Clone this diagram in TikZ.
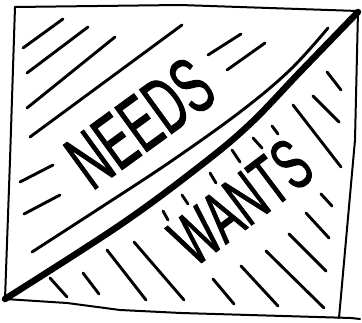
\documentclass[tikz,border=0pt]{standalone}
\usepackage{fontspec}
\setmainfont{Liberation Sans}
\newfontfamily\handfont[FakeBold=1.6]{Liberation Sans}
\usepackage{graphicx}
\begin{document}
\begin{tikzpicture}[x=1pt,y=-1pt,
  frame/.style={line width=2pt, line join=round, line cap=round},
  hatch/.style={line width=2.9pt, line cap=round},
  divider/.style={line width=6.5pt, line cap=round, line join=round},
  word/.style={inner sep=0pt}]
\useasboundingbox (0,0) rectangle (362,323);
\fill[white] (0,0) rectangle (362,323);
% frame
\draw[frame] (5,299) -- (10,160) -- (15,7) -- (180,5) -- (358,11) -- (355,140) -- (339,318);
\draw[frame] (5,299) -- (67,303) -- (120,310) -- (181,313) -- (351,318) -- (360,319);
% dividing diagonal
\draw[divider] plot[smooth, tension=0.6] coordinates {(5,299) (120,225) (200,166) (250,124) (300,72) (358,12)};
% upper-left hatching
\draw[hatch] (23,48) -- (63,19);
\draw[hatch] (27,73) -- (88,27);
\draw[hatch] (27,108) -- (115,37);
\draw[hatch] (30,137) -- (182,25);
\draw[hatch] (208,55) -- (241,34);
\draw[hatch] (227,70) -- (265,43);
\draw[hatch] (20,182) -- (53,165);
\draw[hatch] (24,214) -- (60,195);
\draw[hatch] plot[smooth, tension=0.6] coordinates {(32,252) (100,208) (170,162) (240,112) (290,70) (328,28)};
% lower-right hatching
\draw[hatch] (50,278) -- (67,297);
\draw[hatch] (83,273) -- (99,294);
\draw[hatch] (107,250) -- (146,300);
\draw[hatch] (134,242) -- (184,300);
\draw[hatch] (213,279) -- (234,304);
\draw[hatch] (241,266) -- (278,306);
\draw[hatch] (266,251) -- (324,308);
\draw[hatch] (289,234) -- (326,271);
\draw[hatch] (306,213) -- (329,238);
\draw[hatch] (321,194) -- (332,206);
\draw[hatch] (293,105) -- (341,167);
\draw[hatch] (313,96) -- (339,122);
\draw[hatch] (327,72) -- (341,90);
% short dashes
\draw[hatch] (163,211) -- (168,220);
\draw[hatch] (182,195) -- (188,204);
\draw[hatch] (210,173) -- (216,183);
\draw[hatch] (232,150) -- (240,162);
\draw[hatch] (253,138) -- (262,148);
\draw[hatch] (272,126) -- (278,134);
% words
\node[word, rotate=36, font=\handfont\fontsize{79}{79}\selectfont] (needs) at (140,123) {\scalebox{0.58}[1]{NEEDS}};
\node[word, rotate=37, font=\handfont\fontsize{72}{72}\selectfont] (wants) at (241,202) {\scalebox{0.6}[1]{WANTS}};
\end{tikzpicture}
\end{document}
